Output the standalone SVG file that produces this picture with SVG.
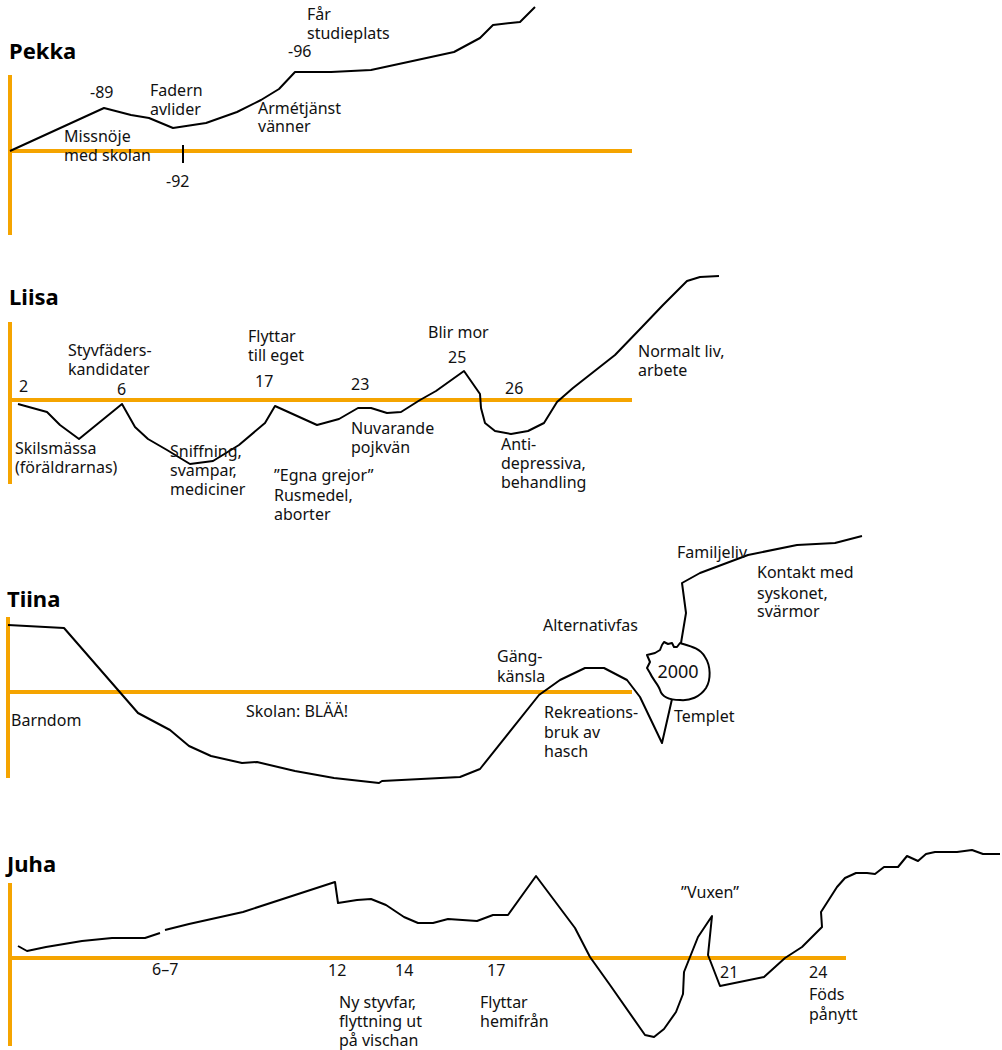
<svg xmlns="http://www.w3.org/2000/svg" width="1002" height="1050" viewBox="0 0 1002 1050">
<style>
.ax{stroke:#F5A400;stroke-width:4;fill:none;stroke-linecap:butt}
.cv{stroke:#000;stroke-width:2;fill:none;stroke-linejoin:round}
text{font-family:"Noto Sans","Open Sans","Liberation Sans",sans-serif;font-size:16px;fill:#111}
.t{font-weight:bold;font-size:22px;fill:#000}
</style>
<rect width="1002" height="1050" fill="#fff"/>

<g id="pekka">
<text class="t" x="9" y="59">Pekka</text>
<g id="pekka-axes">
<line class="ax" x1="10" y1="75" x2="10" y2="235"/>
<line class="ax" x1="10" y1="151" x2="632" y2="151"/>
</g>
<g id="pekka-curve">
<polyline class="cv" points="10,151 104,108 131,115 149,118 173,128 206,123 237,112 261,100 279,89 295,72 331,72 371,70 408,62 454,52 480,38 493,25 520,22 535,7"/>
<line x1="183" y1="145" x2="183" y2="163" stroke="#000" stroke-width="2"/>
</g>
<text x="90" y="98">-89</text>
<text x="150" y="96">Fadern</text>
<text x="150" y="115">avlider</text>
<text x="64" y="142">Missnöje</text>
<text x="64" y="161">med skolan</text>
<text x="166" y="187">-92</text>
<text x="258" y="114">Armétjänst</text>
<text x="258" y="132">vänner</text>
<text x="288" y="57">-96</text>
<text x="307" y="20">Får</text>
<text x="307" y="39">studieplats</text>
</g>

<g id="liisa">
<text class="t" x="9" y="305">Liisa</text>
<g id="liisa-axes">
<line class="ax" x1="10" y1="322" x2="10" y2="484"/>
<line class="ax" x1="10" y1="400" x2="632" y2="400"/>
</g>
<polyline id="liisa-curve" class="cv" points="18,404 47,412 60,425 79,439 122,404 135,427 148,439 167,450 190,464 213,461 239,445 265,423 275,406 317,425 339,419 358,408 371,408 387,413 401,412 420,400 436,391 464,371 480,394 481,408 485,423 495,431 511,434 528,431 544,423 557,402 573,388 615,355 642,327 663,305 687,281 700,277 719,276"/>
<text x="19" y="392">2</text>
<text x="68" y="356">Styvfäders-</text>
<text x="68" y="375">kandidater</text>
<text x="117" y="395">6</text>
<text x="248" y="342">Flyttar</text>
<text x="248" y="361">till eget</text>
<text x="255" y="387">17</text>
<text x="351" y="390">23</text>
<text x="428" y="338">Blir mor</text>
<text x="448" y="363">25</text>
<text x="505" y="394">26</text>
<text x="638" y="357">Normalt liv,</text>
<text x="638" y="376">arbete</text>
<text x="15" y="454">Skilsmässa</text>
<text x="15" y="473">(föräldrarnas)</text>
<text x="170" y="457">Sniffning,</text>
<text x="170" y="476">svampar,</text>
<text x="170" y="495">mediciner</text>
<text x="274" y="481">”Egna grejor”</text>
<text x="274" y="501">Rusmedel,</text>
<text x="274" y="520">aborter</text>
<text x="351" y="434">Nuvarande</text>
<text x="351" y="453">pojkvän</text>
<text x="501" y="450">Anti-</text>
<text x="501" y="469">depressiva,</text>
<text x="501" y="488">behandling</text>
</g>

<g id="tiina">
<text class="t" x="7" y="607">Tiina</text>
<g id="tiina-axes">
<line class="ax" x1="8" y1="617" x2="8" y2="778"/>
<line class="ax" x1="8" y1="692" x2="632" y2="692"/>
</g>
<g id="tiina-curve">
<polyline class="cv" points="8,625 64,628 138,713 170,730 189,746 211,756 242,763 257,762 295,771 334,778 379,783 382,781 460,777 480,769 539,695 560,680 585,668 604,668 627,680 640,697 662,743 672,699"/>
<polyline class="cv" points="681,643 686,613 682,583 700,573 748,555 797,545 835,543 862,536"/>
</g>
<g id="tiina-2000">
<path class="cv" stroke-width="1.3" d="M680,643 C690,646 700,648 705,657 C711,666 711,680 706,688 C700,697 690,701 680,700 C670,700 662,697 660,690 C658,684 653,680 650,673 L647,668 L650,662 L647,655 L655,653 L660,650 L662,645 L664,642 L668,644 L672,643 L674,647 L677,647 Z"/>
<text x="678" y="678" text-anchor="middle" style="font-size:18px">2000</text>
</g>
<text x="11" y="726">Barndom</text>
<text x="246" y="717">Skolan: BLÄÄ!</text>
<text x="497" y="662">Gäng-</text>
<text x="497" y="682">känsla</text>
<text x="543" y="631">Alternativfas</text>
<text x="544" y="718">Rekreations-</text>
<text x="544" y="738">bruk av</text>
<text x="544" y="757">hasch</text>
<text x="674" y="722">Templet</text>
<text x="677" y="558">Familjeliv</text>
<text x="757" y="578">Kontakt med</text>
<text x="757" y="599">syskonet,</text>
<text x="757" y="617">svärmor</text>
</g>

<g id="juha">
<text class="t" x="7" y="872">Juha</text>
<g id="juha-axes">
<line class="ax" x1="10" y1="883" x2="10" y2="1046"/>
<line class="ax" x1="10" y1="958" x2="846" y2="958"/>
</g>
<g id="juha-curve">
<polyline class="cv" points="18,946 27,951 46,947 82,941 112,938 145,938 160,933"/>
<polyline class="cv" points="165,930 189,924 243,912 335,882 338,903 357,900 371,899 386,905 404,917 418,923 433,923 448,919 477,921 493,915 508,915 536,876 575,928 590,957 610,985 645,1035 654,1037 664,1029 676,1012 683,994 684,972 698,937 712,916 708,955 720,986 764,977 785,958 802,947 822,927 821,912 837,887 845,878 856,873 867,873 875,874 884,867 898,867 907,856 918,861 926,854 935,852 957,852 972,850 983,854 1000,854"/>
</g>
<text x="152" y="975">6–7</text>
<text x="328" y="976">12</text>
<text x="395" y="976">14</text>
<text x="487" y="976">17</text>
<text x="339" y="1008">Ny styvfar,</text>
<text x="339" y="1027">flyttning ut</text>
<text x="339" y="1046">på vischan</text>
<text x="480" y="1008">Flyttar</text>
<text x="480" y="1027">hemifrån</text>
<text x="681" y="898">”Vuxen”</text>
<text x="720" y="978">21</text>
<text x="809" y="978">24</text>
<text x="809" y="1000">Föds</text>
<text x="809" y="1020">pånytt</text>
</g>
</svg>
